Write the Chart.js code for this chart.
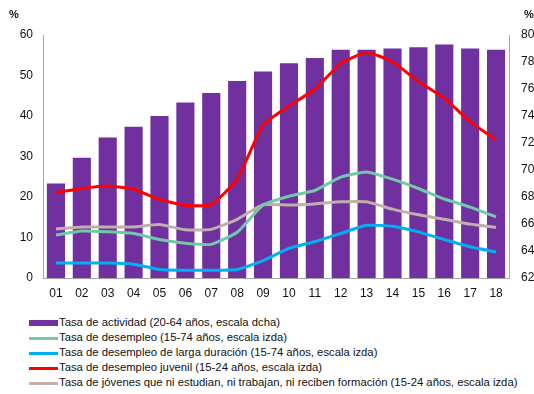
<!DOCTYPE html>
<html>
<head>
<meta charset="utf-8">
<script src="https://cdn.jsdelivr.net/npm/chart.js@4"></script>
<style>
	body { margin: 0; background: #fff; font-family: "Liberation Sans", Arial, sans-serif; }
	#wrap { position: relative; width: 534px; height: 394px; }
	#box { position: absolute; left: 0; top: 0; width: 534px; height: 300px; }
	#leyenda { position: absolute; left: 29px; top: 315px; font-size: 11.3px; color: #111; }
	#leyenda div { height: 15px; line-height: 15px; white-space: nowrap; }
	#leyenda span { display: inline-block; width: 29px; vertical-align: middle; margin-right: 1px; }
</style>
</head>
<body>
<div id="wrap">
	<div id="box"><canvas id="chart1"></canvas></div>
	<div id="leyenda"></div>
</div>
<script>
// años 2001-2018
const anios = ["01", "02", "03", "04", "05", "06", "07", "08", "09", "10", "11", "12", "13", "14", "15", "16", "17", "18"];

const actividad = [69.0, 70.9, 72.4, 73.2, 74.0, 75.0, 75.7, 76.6, 77.3, 77.9, 78.3, 78.9, 78.9, 79.0, 79.1, 79.3, 79.0, 78.9];
const desempleo = [10.6, 11.6, 11.4, 11.0, 9.5, 8.6, 8.3, 11.3, 18.0, 20.2, 21.6, 24.9, 26.2, 24.4, 22.1, 19.5, 17.5, 15.1];
const largaDuracion = [3.7, 3.7, 3.7, 3.4, 2.1, 1.9, 1.9, 2.1, 4.3, 7.3, 9.0, 11.0, 13.0, 12.8, 11.4, 9.5, 7.7, 6.4];
const juvenil = [21.1, 22.1, 22.7, 21.9, 19.4, 17.9, 18.1, 24.4, 37.8, 42.5, 46.6, 53.0, 55.7, 53.4, 48.5, 44.4, 38.6, 34.1];
const nini = [12.1, 12.6, 12.6, 12.6, 13.2, 11.9, 12.0, 14.5, 18.1, 18.0, 18.3, 18.8, 18.8, 17.0, 15.6, 14.5, 13.3, 12.5];

const ticksIzda = [0, 10, 20, 30, 40, 50, 60];
const ticksDcha = [62, 64, 66, 68, 70, 72, 74, 76, 78, 80];

function linea(label, data, color, order) {
	return {
		type: "line",
		label: label,
		data: data,
		yAxisID: "y",
		borderColor: color,
		backgroundColor: color,
		borderWidth: 3,
		pointRadius: 0,
		tension: 0.15,
		order: order,
	};
}

// "%" encima de cada eje
const porcentaje = {
	id: "porcentaje",
	afterDraw: function (chart) {
		let ctx = chart.ctx;
		ctx.save();
		ctx.font = "bold 11px 'Liberation Sans', Arial, sans-serif";
		ctx.fillStyle = "#111";
		ctx.textBaseline = "middle";
		ctx.textAlign = "left";
		ctx.fillText("%", 9, 15);
		ctx.fillText("%", 524, 15);
		ctx.restore();
	},
};

const ejeColor = "#a6a6a6";
const fuente = { family: "'Liberation Sans', Arial, sans-serif", size: 12 };

let grafico = new Chart(document.getElementById("chart1"), {
	type: "bar",
	data: {
		labels: anios,
		datasets: [
			{
				type: "bar",
				label: "Tasa de actividad (20-64 años, escala dcha)",
				data: actividad,
				yAxisID: "y1",
				backgroundColor: "#7030a0",
				barPercentage: 0.7,
				categoryPercentage: 1,
				order: 10,
			},
			linea("Tasa de desempleo (15-74 años, escala izda)", desempleo, "#70c9a8", 3),
			linea("Tasa de desempleo de larga duración (15-74 años, escala izda)", largaDuracion, "#00b0f0", 2),
			linea("Tasa de desempleo juvenil (15-24 años, escala izda)", juvenil, "#ff0000", 1),
			linea("Tasa de jóvenes que ni estudian, ni trabajan, ni reciben formación (15-24 años, escala izda)", nini, "#bfb0a8", 4),
		],
	},
	options: {
		responsive: true,
		maintainAspectRatio: false,
		animation: false,
		layout: { padding: { top: 35, left: 0, right: 0, bottom: 0 } },
		plugins: {
			legend: { display: false },
			tooltip: { enabled: false },
		},
		scales: {
			x: {
				grid: { display: false, drawTicks: false },
				border: { color: ejeColor },
				ticks: { color: "#111", font: fuente, padding: 8, maxRotation: 0 },
				afterFit: function (s) { s.height = 22; },
			},
			y: {
				position: "left",
				min: 0,
				max: 60,
				grid: { display: false, drawTicks: false },
				border: { color: ejeColor },
				afterBuildTicks: function (s) { s.ticks = ticksIzda.map((v) => ({ value: v })); },
				ticks: { color: "#111", font: fuente, padding: 10 },
				afterFit: function (s) { s.width = 43; },
			},
			y1: {
				position: "right",
				min: 62,
				max: 80,
				grid: { display: false, drawTicks: false },
				border: { color: ejeColor },
				afterBuildTicks: function (s) { s.ticks = ticksDcha.map((v) => ({ value: v })); },
				ticks: { color: "#111", font: fuente, padding: 12 },
				afterFit: function (s) { s.width = 25; },
			},
		},
	},
	plugins: [porcentaje],
});

// leyenda en columna, debajo del gráfico
let leyenda = document.getElementById("leyenda");
grafico.data.datasets.forEach(function (ds) {
	let fila = document.createElement("div");
	let marca = document.createElement("span");
	let alto = ds.type === "bar" ? 6 : 3;
	marca.style.height = alto + "px";
	marca.style.background = ds.type === "bar" ? ds.backgroundColor : ds.borderColor;
	fila.appendChild(marca);
	fila.appendChild(document.createTextNode(ds.label));
	leyenda.appendChild(fila);
});
</script>
</body>
</html>
